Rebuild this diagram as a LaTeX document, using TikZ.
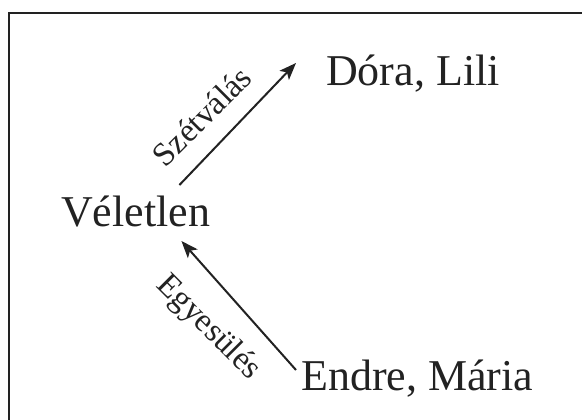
\documentclass[tikz,border=0pt]{standalone}
\usepackage{fontspec}
\setmainfont{Liberation Serif}
\usetikzlibrary{arrows.meta,calc}
\definecolor{ink}{HTML}{222222}
\begin{document}
\begin{tikzpicture}[x=1pt,y=-1pt,
  big/.style={inner sep=0pt, anchor=base west, text=ink, font=\fontsize{44}{52}\selectfont},
  lab/.style={inner sep=0pt, anchor=center, text=ink, font=\fontsize{33}{38}\selectfont},
  arr/.style={draw=ink, line width=2pt, -{Stealth[length=17pt,width=13pt,inset=4pt]}},
  frame/.style={draw=ink, line width=2.4pt}]
\useasboundingbox (0,0) rectangle (582,420);
\draw[frame] (592,13) -- (9,13) -- (9,432);
\node[big] (V) at (61,226) {Véletlen};
\node[big] (D) at (326,86) {Dóra, Lili};
\node[big] (E) at (301,390) {Endre, Mária};
\coordinate (t1) at ($(V.base east)+(-31,-41)$);
\coordinate (h1) at ($(D.base west)+(-30,-23)$);
\coordinate (t2) at ($(E.base west)+(-5,-20)$);
\coordinate (h2) at ($(V.base east)+(-29,15)$);
\draw[arr] (t1) -- (h1);
\draw[arr] (t2) -- (h2);
\node[lab, rotate=45] (L1) at (202,116) {Szétválás};
\node[lab, rotate=-45] (L2) at (208,328) {Egyesülés};
\end{tikzpicture}
\end{document}
